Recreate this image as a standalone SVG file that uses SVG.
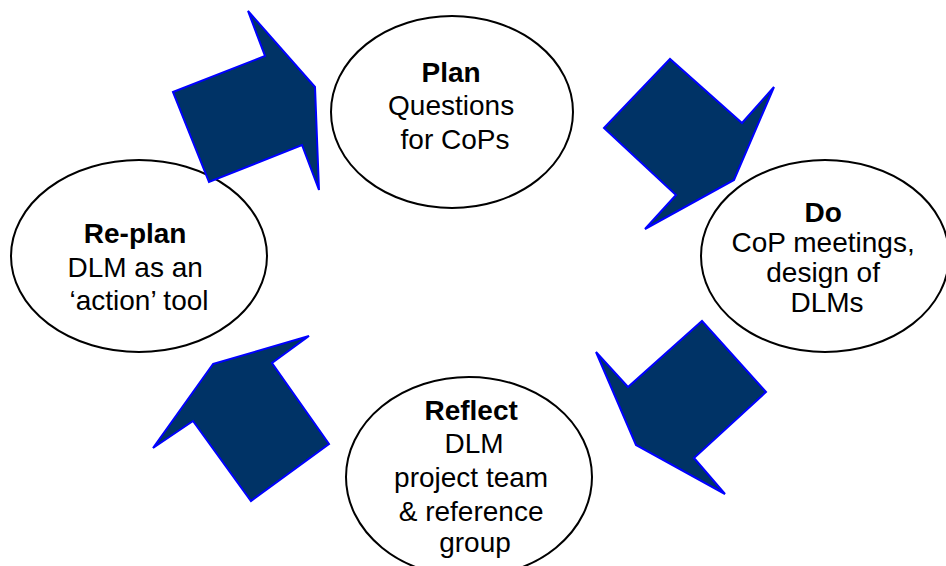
<svg xmlns="http://www.w3.org/2000/svg" width="946" height="566" viewBox="0 0 946 566">
  <style>
    .bubble { fill: #ffffff; stroke: #000000; stroke-width: 2; }
    .label { font-family: "Liberation Sans", Arial, sans-serif; font-size: 28px; fill: #000000; text-anchor: middle; }
    .title { font-weight: bold; }
    .step { fill: #003366; stroke: #0000ff; stroke-width: 2; stroke-linejoin: miter; }
  </style>
  <rect width="946" height="566" fill="#ffffff"/>

  <!-- Cycle stages -->
  <g id="plan">
    <ellipse class="bubble" cx="452" cy="112" rx="121" ry="96"/>
    <text class="label" x="455">
      <tspan class="title" x="455" y="82">Plan</tspan>
      <tspan x="455" y="115">Questions</tspan>
      <tspan x="455" y="149">for CoPs</tspan>
    </text>
  </g>

  <g id="do">
    <ellipse class="bubble" cx="825" cy="256" rx="124" ry="96"/>
    <text class="label" x="827">
      <tspan class="title" x="827" y="222">Do</tspan>
      <tspan x="827" y="252">CoP meetings,</tspan>
      <tspan x="827" y="282">design of</tspan>
      <tspan x="827" y="312">DLMs</tspan>
    </text>
  </g>

  <g id="reflect">
    <ellipse class="bubble" cx="469" cy="477" rx="123" ry="100"/>
    <text class="label" x="475">
      <tspan class="title" x="475" y="420">Reflect</tspan>
      <tspan x="478" y="453">DLM</tspan>
      <tspan x="475" y="487">project team</tspan>
      <tspan x="475" y="521">&amp; reference</tspan>
      <tspan x="475" y="552">group</tspan>
    </text>
  </g>

  <g id="replan">
    <ellipse class="bubble" cx="139" cy="256" rx="128" ry="96"/>
    <text class="label" x="139">
      <tspan class="title" x="139" y="243">Re-plan</tspan>
      <tspan x="139" y="277">DLM as an</tspan>
      <tspan x="139" y="310">‘action’ tool</tspan>
    </text>
  </g>

  <!-- Block arrows linking the stages clockwise -->
  <g id="connectors">
    <polygon class="step" points="173,92 265,56 248,11 315,87 319,190 302,145 209,182"/>
    <polygon class="step" points="604,128 670,59 742,123 774,87 734,180 645,229 676,195"/>
    <polygon class="step" points="702,321 766,392 694,458 725,494 636,445 596,352 628,387"/>
    <polygon class="step" points="213,364 309,336 272,363 329,444 251,501 193,421 153,448"/>
  </g>
</svg>
